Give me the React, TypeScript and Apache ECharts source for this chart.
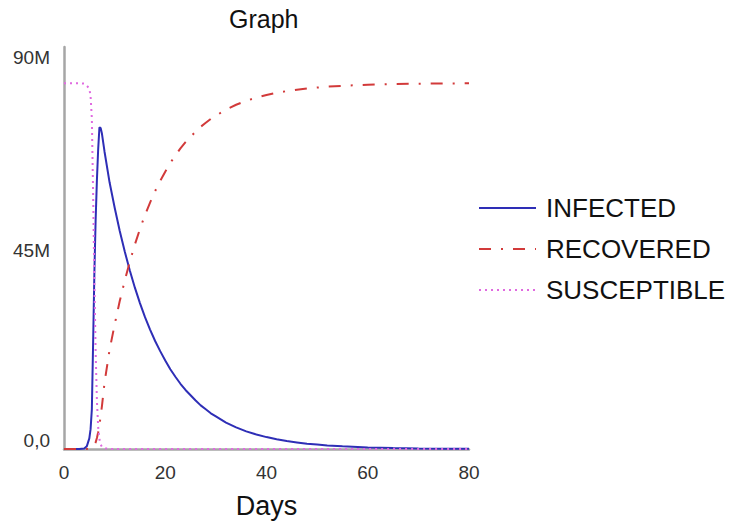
import React, { useEffect, useRef } from "react";
import * as echarts from "echarts";

// Days (x) and values in millions of people (y)
const days = [0, 1, 2, 3, 4, 4.5, 5, 5.25, 5.5, 5.75, 6, 6.25, 6.5, 6.75, 7, 7.25, 7.5, 8,
  9, 10, 11, 12, 13, 14, 15, 16, 17, 18, 19, 20, 21, 22, 23, 24, 25, 26, 27, 28, 29, 30,
  32, 34, 36, 38, 40, 42, 44, 46, 48, 50, 52, 55, 60, 65, 70, 75, 80];

const infected = [0, 0, 0, 0, 0.1, 0.6, 2.4, 4.5, 9, 24, 40, 52, 61, 68, 73, 72.8, 71.5, 67.5,
  60.5, 54.8, 49.5, 44.8, 40.5, 36.6, 33.1, 29.9, 27.1, 24.5, 22.2, 20.1, 18.1, 16.4, 14.8, 13.4, 12.2, 11.0, 9.9, 9.0, 8.1, 7.4,
  6.0, 4.9, 4.0, 3.3, 2.7, 2.2, 1.8, 1.5, 1.2, 1.0, 0.8, 0.6, 0.35, 0.2, 0.12, 0.07, 0.04];

const recovered = [0, 0, 0, 0, 0, 0, 0.1, 0.2, 0.3, 0.5, 0.8, 1.5, 2.5, 3.8, 5.5, 7.5, 9.8, 15,
  22.5, 28.2, 33.5, 38.2, 42.5, 46.4, 49.9, 53.1, 55.9, 58.5, 60.8, 62.9, 64.9, 66.6, 68.2, 69.6, 70.8, 72.0, 73.1, 74.0, 74.9, 75.6,
  77.0, 78.1, 79.0, 79.7, 80.3, 80.8, 81.2, 81.5, 81.8, 82.0, 82.2, 82.4, 82.65, 82.8, 82.88, 82.93, 82.96];

const susceptible = [83, 83, 83, 83, 82.9, 82.4, 81.8, 80, 75, 58, 38, 22, 11, 5, 2.2, 1, 0.5, 0.15,
  0.03, 0, 0, 0, 0, 0, 0, 0, 0, 0, 0, 0, 0, 0, 0, 0, 0, 0, 0, 0, 0, 0,
  0, 0, 0, 0, 0, 0, 0, 0, 0, 0, 0, 0, 0, 0, 0, 0, 0];

const yTickValues = [0, 45, 90];
const seriesNames = ["INFECTED", "RECOVERED", "SUSCEPTIBLE"];

const FONT = "'Liberation Sans', Arial, Helvetica, sans-serif";

const pairs = (vals: number[]) => days.map((d, i) => [d, vals[i]]);

export default function App() {
  const ref = useRef<HTMLDivElement>(null);
  useEffect(() => {
    if (!ref.current) return;
    const chart = echarts.init(ref.current, undefined, { renderer: "svg" });
    chart.setOption({
      animation: false,
      backgroundColor: "#ffffff",
      title: {
        text: "Graph",
        left: 229,
        top: 6,
        padding: 0,
        textStyle: { fontFamily: FONT, fontSize: 25, fontWeight: "normal", color: "#111" },
      },
      legend: {
        orient: "vertical",
        left: 478,
        top: 195,
        padding: 0,
        itemWidth: 57,
        itemHeight: 14,
        itemGap: 15,
        data: seriesNames,
        itemStyle: { opacity: 0 },
        textStyle: { fontFamily: FONT, fontSize: 26, color: "#111", padding: [0, 0, 0, 5] },
      },
      grid: { left: 64, right: 261, top: 47, bottom: 73 },
      xAxis: {
        type: "value",
        min: 0,
        max: 80,
        interval: 20,
        name: "Days",
        nameLocation: "middle",
        nameGap: 43,
        nameTextStyle: { fontFamily: FONT, fontSize: 27, color: "#111" },
        axisLine: { show: true, onZero: false, lineStyle: { color: "#a6a6a6", width: 2.5 } },
        axisTick: { show: false },
        splitLine: { show: false },
        axisLabel: { fontFamily: FONT, fontSize: 19, color: "#333", margin: 14 },
      },
      yAxis: {
        type: "value",
        min: 0,
        max: 91.2,
        interval: 45,
        axisLine: { show: true, lineStyle: { color: "#a6a6a6", width: 2.5 } },
        axisTick: { show: false },
        splitLine: { show: false },
        axisLabel: {
          fontFamily: FONT,
          fontSize: 19,
          color: "#333",
          margin: 14,
          formatter: (v: number) => {
            if (!yTickValues.includes(v)) return "";
            if (v === 0) return "{low|0,0}";
            if (v === 90) return "{high|90M}";
            return "{mid|" + v + "M}";
          },
          rich: {
            low: { fontFamily: FONT, fontSize: 19, color: "#333", padding: [0, 0, 18, 0] },
            mid: { fontFamily: FONT, fontSize: 19, color: "#333" },
            high: { fontFamily: FONT, fontSize: 19, color: "#333", padding: [10, 0, 0, 0] },
          },
        },
      },
      series: [
        {
          name: seriesNames[0],
          type: "line",
          symbol: "none",
          data: pairs(infected),
          itemStyle: { color: "#2e2eb6" },
          lineStyle: { color: "#2e2eb6", width: 2 },
        },
        {
          name: seriesNames[1],
          type: "line",
          symbol: "none",
          data: pairs(recovered),
          itemStyle: { color: "#d23a3a" },
          lineStyle: { color: "#d23a3a", width: 2, type: [12, 10, 2, 10] },
        },
        {
          name: seriesNames[2],
          type: "line",
          symbol: "none",
          data: pairs(susceptible),
          itemStyle: { color: "#e06ae0" },
          lineStyle: { color: "#e06ae0", width: 2, type: [2, 4] },
        },
      ],
    });
    return () => chart.dispose();
  }, []);
  return (
    <div
      ref={ref}
      style={{ position: "absolute", left: 0, top: 0, width: 730, height: 524 }}
    />
  );
}
